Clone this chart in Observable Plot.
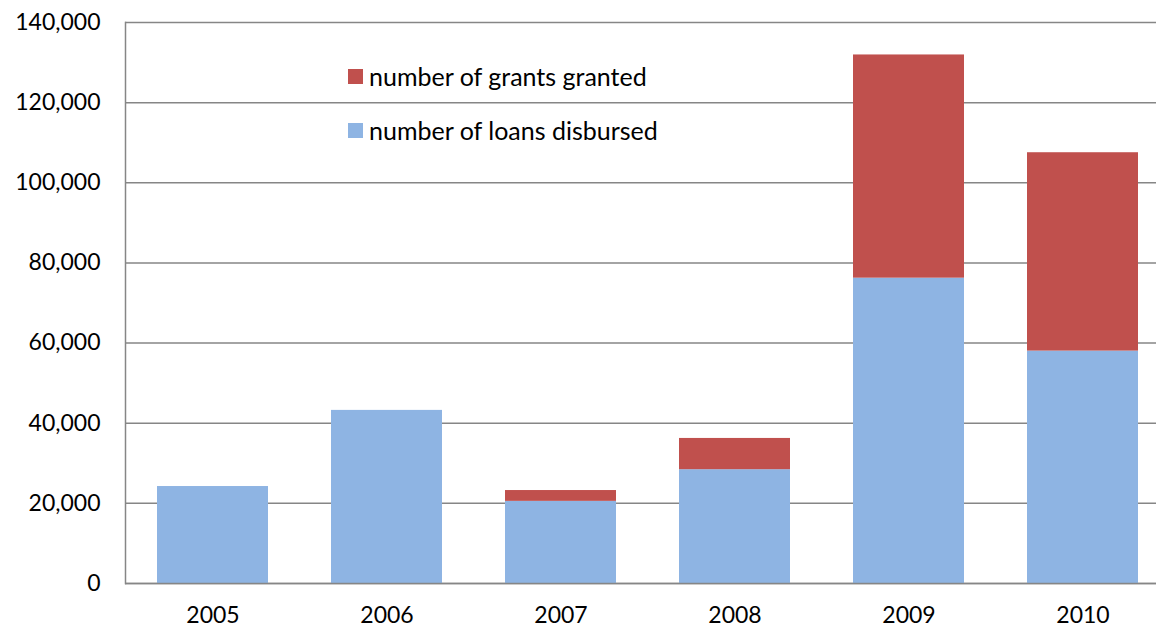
<!DOCTYPE html>
<html>
<head>
<meta charset="utf-8">
<script src="https://cdn.jsdelivr.net/npm/d3@7"></script>
<script src="https://cdn.jsdelivr.net/npm/@observablehq/plot@0.6"></script>
<style>
  html, body { margin: 0; padding: 0; background: #fff; overflow: hidden; }
  #wrap { position: relative; width: 1156px; height: 628px; font-family: Lato, "Open Sans", sans-serif; }
  .legend { position: absolute; left: 348px; height: 30px; line-height: 30px; font-size: 25px; color: #000; display: flex; align-items: center; white-space: nowrap; }
  .legend .sw { width: 15px; height: 15px; margin-right: 6px; flex: none; }
</style>
</head>
<body>
<div id="wrap"></div>
<script>
const years = ["2005", "2006", "2007", "2008", "2009", "2010"];
const loans = [24200, 43200, 20500, 28400, 76200, 58000];
const grants = [0, 0, 2700, 7800, 55700, 49500];
const seriesNames = ["number of loans disbursed", "number of grants granted"];
const seriesColors = ["#8EB4E3", "#C0504D"];
const yTicks = [0, 20000, 40000, 60000, 80000, 100000, 120000, 140000];

const data = years.flatMap((yr, i) => [
  {year: yr, series: seriesNames[0], value: loans[i]},
  {year: yr, series: seriesNames[1], value: grants[i]}
]);

const chart = Plot.plot({
  width: 1156,
  height: 628,
  marginLeft: 125,
  marginRight: 0,
  marginTop: 22,
  marginBottom: 45,
  style: {fontFamily: "Lato, 'Open Sans', sans-serif", fontSize: "23px", color: "#000", background: "#fff", overflow: "visible"},
  x: {domain: years, range: [125.5, 1169.5], paddingInner: 0.362, paddingOuter: 0.181, label: null},
  y: {domain: [0, 140000], label: null},
  color: {domain: seriesNames, range: seriesColors},
  marks: [
    Plot.gridY(yTicks, {stroke: "#868686", strokeOpacity: 1, strokeWidth: 1.5}),
    Plot.barY(data, {x: "year", y: "value", fill: "series", order: seriesNames}),
    Plot.frame({anchor: "left", stroke: "#868686", strokeWidth: 1.5}),
    Plot.ruleY([0], {stroke: "#868686", strokeWidth: 1.5}),
    Plot.axisY(yTicks, {tickSize: 0, tickPadding: 25, tickFormat: d3.format(","), label: null, fontSize: 23}),
    Plot.axisX({tickSize: 0, tickPadding: 23, label: null, fontSize: 23})
  ]
});

const wrap = document.getElementById("wrap");
wrap.appendChild(chart);

const legendItems = [
  {name: seriesNames[1], color: seriesColors[1], top: 61},
  {name: seriesNames[0], color: seriesColors[0], top: 115}
];
for (const it of legendItems) {
  const d = document.createElement("div");
  d.className = "legend";
  d.style.top = it.top + "px";
  const sw = document.createElement("span");
  sw.className = "sw";
  sw.style.background = it.color;
  const t = document.createElement("span");
  t.textContent = it.name;
  d.appendChild(sw);
  d.appendChild(t);
  wrap.appendChild(d);
}
</script>
</body>
</html>
